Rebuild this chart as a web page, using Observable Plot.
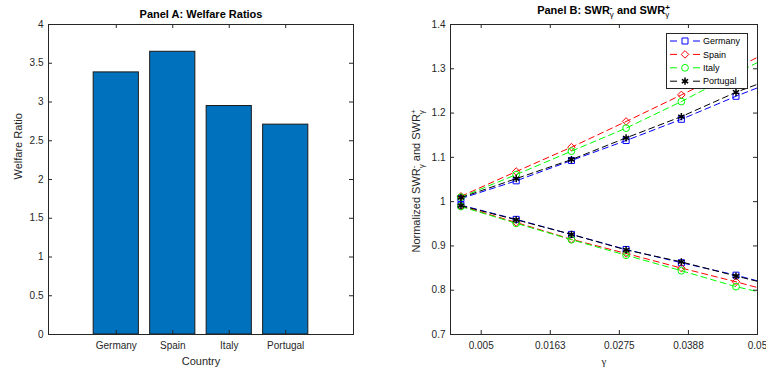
<!DOCTYPE html>
<html>
<head>
<meta charset="utf-8">
<script src="https://cdn.jsdelivr.net/npm/d3@7"></script>
<script src="https://cdn.jsdelivr.net/npm/@observablehq/plot@0.6"></script>
<style>
  body { margin: 0; background: #fff; }
  #wrap { position: relative; width: 766px; height: 369px; overflow: hidden; background: #fff; }
  #wrap svg { position: absolute; top: 0; }
</style>
</head>
<body>
<div id="wrap"></div>
<script>
// ---------- Data ----------
const countries = ["Germany", "Spain", "Italy", "Portugal"];
const welfareRatio = [3.382, 3.648, 2.948, 2.708];
const welfareTicks = [0, 0.5, 1, 1.5, 2, 2.5, 3, 3.5, 4];

const gamma = [0.0017, 0.0107, 0.0197, 0.0286, 0.0376, 0.0465, 0.05];
const swrPlusGermany  = [1.007, 1.047, 1.093, 1.138, 1.186, 1.238, 1.257];
const swrPlusSpain    = [1.012, 1.068, 1.123, 1.181, 1.241, 1.301, 1.326];
const swrPlusItaly    = [1.010, 1.061, 1.114, 1.166, 1.226, 1.290, 1.314];
const swrPlusPortugal = [1.009, 1.052, 1.095, 1.144, 1.192, 1.247, 1.265];
const swrMinusGermany  = [0.992, 0.960, 0.926, 0.892, 0.862, 0.834, 0.821];
const swrMinusSpain    = [0.990, 0.953, 0.915, 0.883, 0.850, 0.819, 0.806];
const swrMinusItaly    = [0.989, 0.951, 0.914, 0.879, 0.844, 0.808, 0.797];
const swrMinusPortugal = [0.991, 0.959, 0.926, 0.891, 0.864, 0.832, 0.820];
const markerCount = 6; // markers on the first six gamma values

const gammaTicks = [0.005, 0.01625, 0.0275, 0.03875, 0.05];
const gammaTickLabels = ["0.005", "0.0163", "0.0275", "0.0388", "0.05"];
const swrTicks = [0.7, 0.8, 0.9, 1, 1.1, 1.2, 1.3, 1.4];

// ---------- Styles ----------
const seriesColors = ["#0000ff", "#ff0000", "#00ff00", "#000000"];
const seriesSymbols = ["square", "diamond2", "circle", "asterisk"];
const seriesMarkerWidth = [1, 1, 1, 1.5];
const d3Symbols = {square: d3.symbolSquare, diamond2: d3.symbolDiamond2, circle: d3.symbolCircle, asterisk: d3.symbolAsterisk};
const axisColor = "#262626";
const font = "'Liberation Sans', Arial, Helvetica, sans-serif";
const W = 383, H = 369;
const baseStyle = {fontFamily: font, fontSize: "10px", color: axisColor, background: "white"};

const wrap = document.getElementById("wrap");

// ---------- Panel A ----------
const A = {left: 48, right: 30, top: 24, bottom: 35};
const aFW = W - A.left - A.right, aFH = H - A.top - A.bottom;
const barData = countries.map((c, i) => ({country: c, pos: i + 1, value: welfareRatio[i]}));
const catPos = countries.map((c, i) => i + 1);
const TK = 4;

const plotA = Plot.plot({
  width: W, height: H,
  marginLeft: A.left, marginRight: A.right, marginTop: A.top, marginBottom: A.bottom,
  style: baseStyle,
  x: {domain: [-0.2, 5.2], label: null},
  y: {domain: [0, 4], label: null},
  marks: [
    Plot.rect(barData, {x1: d => d.pos - 0.4, x2: d => d.pos + 0.4, y1: d => 0, y2: "value",
      fill: "#0072BD", stroke: "#1a1a1a", strokeWidth: 1}),
    Plot.ruleY(welfareTicks, {y: d => d, insetRight: aFW - TK, stroke: axisColor}),
    Plot.ruleY(welfareTicks, {y: d => d, insetLeft: aFW - TK, stroke: axisColor}),
    Plot.ruleX(catPos, {x: d => d, insetBottom: aFH - TK, stroke: axisColor}),
    Plot.ruleX(catPos, {x: d => d, insetTop: aFH - TK, stroke: axisColor}),
    Plot.frame({stroke: axisColor, strokeWidth: 1}),
    Plot.axisY(welfareTicks, {tickSize: 0, tickPadding: 5, tickFormat: d => String(d), label: null, fill: axisColor}),
    Plot.axisX(catPos, {tickSize: 0, tickPadding: 7, tickFormat: d => countries[d - 1], label: null, fill: axisColor}),
    Plot.text(["Panel A: Welfare Ratios"], {text: d => d, frameAnchor: "top", dy: -7, lineAnchor: "bottom",
      fontWeight: "bold", fontSize: 11, fill: "#000"}),
    Plot.text(["Welfare Ratio"], {text: d => d, frameAnchor: "left", dx: -30, rotate: -90, lineAnchor: "middle",
      fontSize: 11, fill: axisColor}),
    Plot.text(["Country"], {text: d => d, frameAnchor: "bottom", dy: 27, lineAnchor: "middle",
      fontSize: 11, fill: axisColor})
  ]
});
plotA.style.left = "0px";
wrap.appendChild(plotA);

// ---------- Panel B ----------
const B = {left: 67, right: 9, top: 24, bottom: 35};
const bFW = W - B.left - B.right, bFH = H - B.top - B.bottom;
const swrPlus = [swrPlusGermany, swrPlusSpain, swrPlusItaly, swrPlusPortugal];
const swrMinus = [swrMinusGermany, swrMinusSpain, swrMinusItaly, swrMinusPortugal];

const rows = [];
countries.forEach((c, i) => {
  gamma.forEach((g, j) => {
    rows.push({country: c, side: "plus", g, v: swrPlus[i][j], j});
    rows.push({country: c, side: "minus", g, v: swrMinus[i][j], j});
  });
});

const seriesMarks = [];
countries.forEach((c, i) => {
  for (const side of ["plus", "minus"]) {
    seriesMarks.push(Plot.line(rows.filter(r => r.country === c && r.side === side),
      {x: "g", y: "v", stroke: "country", strokeWidth: 1, strokeDasharray: "6,4"}));
  }
  seriesMarks.push(Plot.dot(rows.filter(r => r.country === c && r.j < markerCount),
    {x: "g", y: "v", stroke: "country", symbol: "country", fill: "none", r: 3.4, strokeWidth: seriesMarkerWidth[i]}));
});

const plotB = Plot.plot({
  width: W, height: H,
  marginLeft: B.left, marginRight: B.right, marginTop: B.top, marginBottom: B.bottom,
  style: baseStyle,
  x: {domain: [0, 0.05], label: null},
  y: {domain: [0.7, 1.4], label: null},
  color: {domain: countries, range: seriesColors},
  symbol: {domain: countries, range: seriesSymbols},
  marks: [
    ...seriesMarks,
    Plot.ruleY(swrTicks, {y: d => d, insetRight: bFW - TK, stroke: axisColor}),
    Plot.ruleY(swrTicks, {y: d => d, insetLeft: bFW - TK, stroke: axisColor}),
    Plot.ruleX(gammaTicks, {x: d => d, insetBottom: bFH - TK, stroke: axisColor}),
    Plot.ruleX(gammaTicks, {x: d => d, insetTop: bFH - TK, stroke: axisColor}),
    Plot.frame({stroke: axisColor, strokeWidth: 1}),
    Plot.axisY(swrTicks, {tickSize: 0, tickPadding: 5, tickFormat: d => String(d), label: null, fill: axisColor}),
    Plot.axisX(gammaTicks, {tickSize: 0, tickPadding: 7, tickFormat: (d, i) => gammaTickLabels[i], label: null, fill: axisColor}),
    Plot.text(["γ"], {text: d => d, frameAnchor: "bottom", dy: 27, lineAnchor: "middle",
      fontSize: 11, fill: axisColor, fontFamily: "'Liberation Serif', 'DejaVu Serif', serif"})
  ]
});
plotB.style.left = W + "px";
wrap.appendChild(plotB);

// Legend, title and y label (text with sub/superscripts) drawn into panel B's SVG
const svgB = d3.select(plotB);
const lg = svgB.append("g").attr("font-family", font).attr("font-size", 9).attr("text-anchor", "start");
const lgX = 283, lgY = 33, lgW = 81, lgH = 55, rowH = 13.4;
lg.append("rect").attr("x", lgX + 0.5).attr("y", lgY + 0.5).attr("width", lgW).attr("height", lgH)
  .attr("fill", "white").attr("stroke", axisColor).attr("stroke-width", 1);
countries.forEach((c, i) => {
  const cy = lgY + 8 + i * rowH;
  lg.append("line").attr("x1", lgX + 4).attr("x2", lgX + 34).attr("y1", cy).attr("y2", cy)
    .attr("stroke", seriesColors[i]).attr("stroke-width", 1).attr("stroke-dasharray", "7,16");
  lg.append("path").attr("transform", `translate(${lgX + 19},${cy})`)
    .attr("d", d3.symbol(d3Symbols[seriesSymbols[i]], Math.PI * 3.4 * 3.4)())
    .attr("fill", "none").attr("stroke", seriesColors[i]).attr("stroke-width", seriesMarkerWidth[i]);
  lg.append("text").attr("x", lgX + 37).attr("y", cy + 3.2).attr("text-anchor", "start").attr("fill", "#000").text(c);
});

const title = svgB.append("text").attr("x", B.left + bFW / 2).attr("y", 13.5)
  .attr("text-anchor", "middle").attr("font-family", font).attr("font-size", 11)
  .attr("font-weight", "bold").attr("fill", "#000");
title.append("tspan").text("Panel B: SWR");
title.append("tspan").attr("font-size", 8).attr("dy", -4).text("-");
title.append("tspan").attr("font-size", 8).attr("dx", -2.7).attr("dy", 7.5).attr("font-weight", "normal").text("γ");
title.append("tspan").attr("dy", -3.5).text(" and SWR");
title.append("tspan").attr("font-size", 8).attr("dy", -4).text("+");
title.append("tspan").attr("font-size", 8).attr("dx", -4.7).attr("dy", 7.5).attr("font-weight", "normal").text("γ");

const ylab = svgB.append("text").attr("transform", `translate(37,${B.top + bFH / 2 + 2}) rotate(-90)`)
  .attr("text-anchor", "middle").attr("font-family", font).attr("font-size", 11).attr("fill", axisColor);
ylab.append("tspan").text("Normalized SWR");
ylab.append("tspan").attr("font-size", 8).attr("dy", -4).text("-");
ylab.append("tspan").attr("font-size", 8).attr("dx", -2.7).attr("dy", 7.5).text("γ");
ylab.append("tspan").attr("dy", -3.5).text(" and SWR");
ylab.append("tspan").attr("font-size", 8).attr("dy", -4).text("+");
ylab.append("tspan").attr("font-size", 8).attr("dx", -4.7).attr("dy", 7.5).text("γ");
</script>
</body>
</html>
